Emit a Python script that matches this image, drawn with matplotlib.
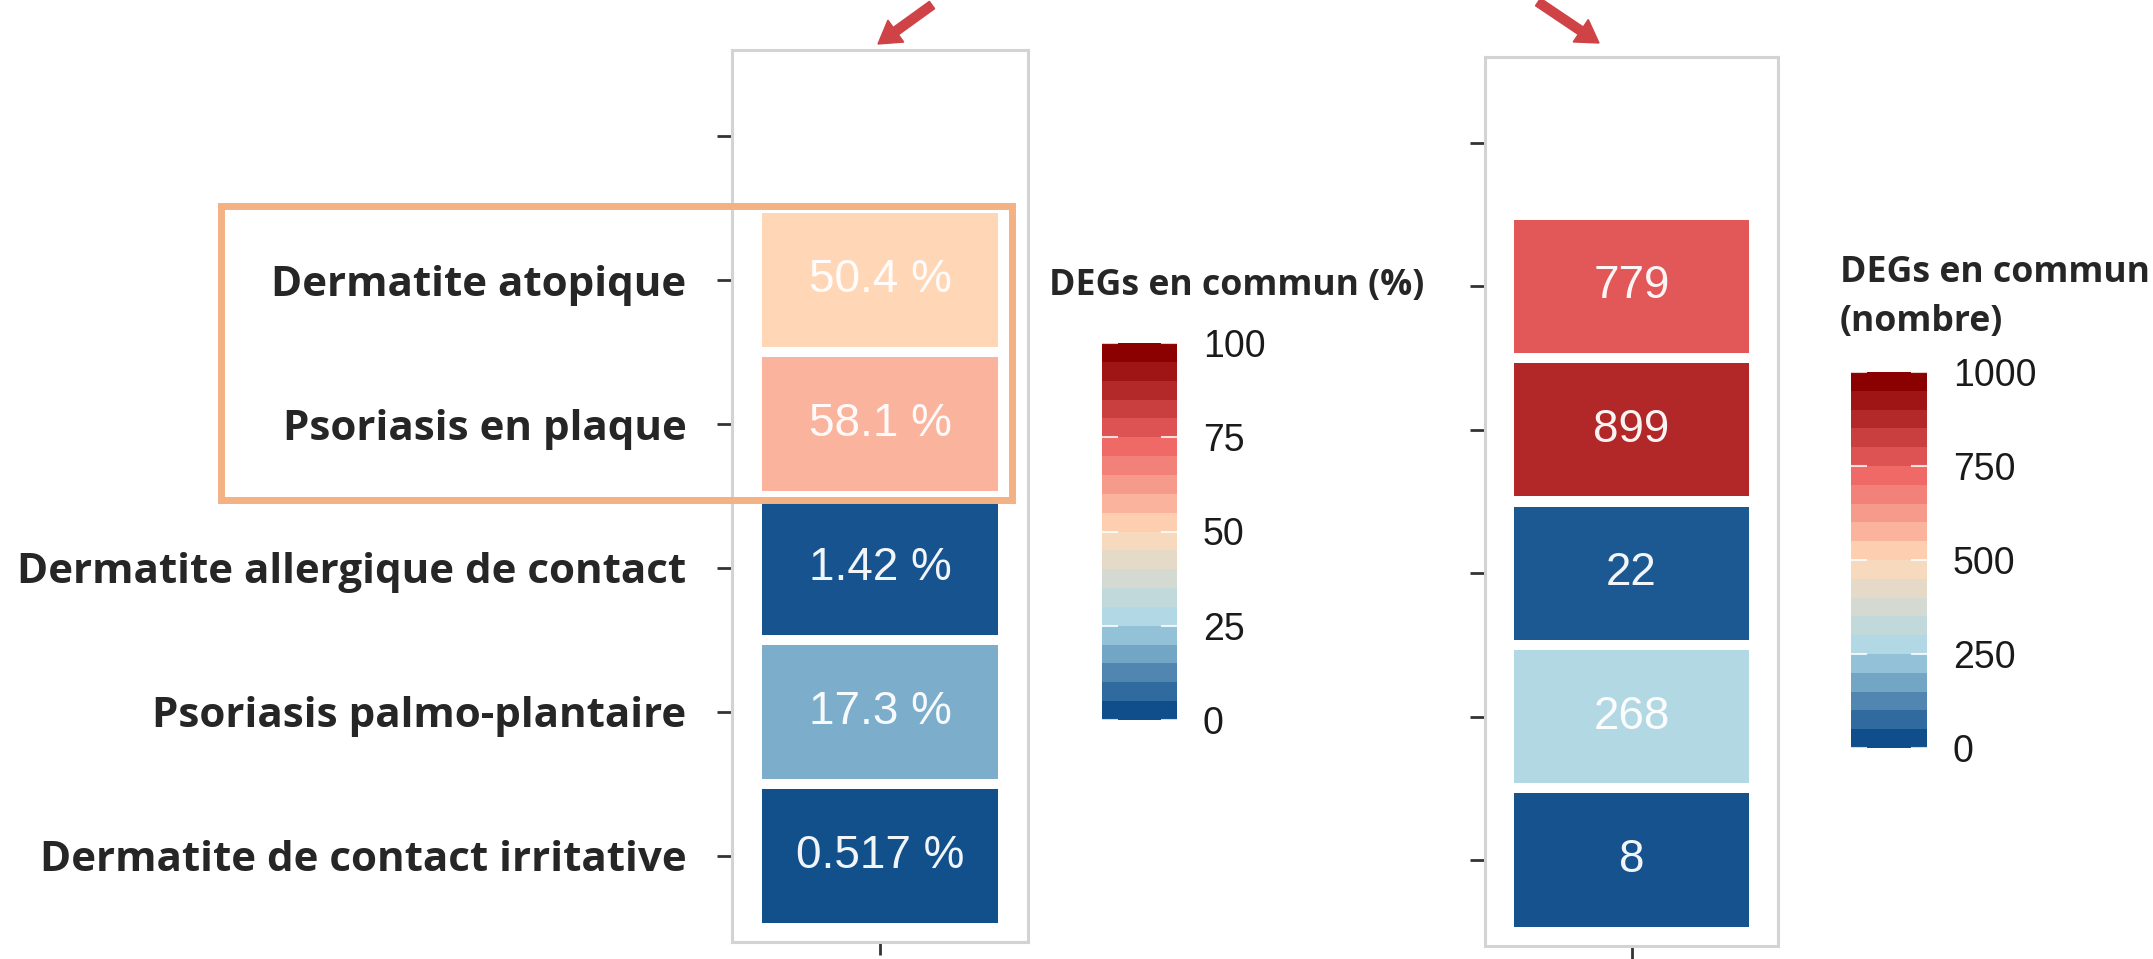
import numpy as np
import matplotlib.pyplot as plt
import matplotlib.transforms as mtransforms
from matplotlib.colors import LinearSegmentedColormap
from matplotlib.patches import FancyArrow, Rectangle

# données
maladies = ["Dermatite atopique", "Psoriasis en plaque", "Dermatite allergique de contact",
            "Psoriasis palmo-plantaire", "Dermatite de contact irritative"]
pct_communs = [50.4, 58.1, 1.42, 17.3, 0.517]
pct_textes = ["50.4 %", "58.1 %", "1.42 %", "17.3 %", "0.517 %"]
nb_communs = [779, 899, 22, 268, 8]
nb_textes = ["779", "899", "22", "268", "8"]
pct_ticks = [0, 25, 50, 75, 100]
nb_ticks = [0, 250, 500, 750, 1000]

W, H, DPI = 2153, 959, 100
fig = plt.figure(figsize=(W / DPI, H / DPI), dpi=DPI)
fig.patch.set_facecolor("white")

degrade = LinearSegmentedColormap.from_list(
    "degs", ["#104E8B", "#ADD8E6", "#FFDAB9", "#EE6363", "#8B0000"])


def px_rect(x0, y0, x1, y1):
    # pixels (origine en haut a gauche) -> fraction de figure
    return [x0 / W, 1 - y1 / H, (x1 - x0) / W, (y1 - y0) / H]


def tuiles(rect, valeurs, textes, vmax, etiquettes):
    ax = fig.add_axes(rect)
    n = len(valeurs)
    ypos = np.arange(n, 0, -1)
    couleurs = degrade(np.asarray(valeurs) / vmax)
    ax.barh(ypos, 1, left=0.5, height=1, color=couleurs, edgecolor="white", linewidth=7.2)
    for y, t in zip(ypos, textes):
        ax.text(1, y, t, ha="center", va="center", color="white", alpha=0.95,
                fontsize=33, family="Liberation Sans")
    ax.set_xlim(0.4, 1.6)
    ax.set_ylim(0.4, n + 1.6)
    ax.set_yticks(np.arange(1, n + 2))
    if etiquettes:
        ax.set_yticklabels(list(reversed(maladies)) + [""], fontsize=30.3,
                           fontweight="bold", family="Open Sans", color="#262626")
    else:
        ax.set_yticklabels([])
    ax.set_xticks([1])
    ax.set_xticklabels([])
    ax.tick_params(axis="both", length=10.8, width=2, color="#333333", pad=22)
    ax.tick_params(axis="x", length=9.4)
    for s in ax.spines.values():
        s.set_color("#D3D3D3")
        s.set_linewidth(2.2)
    return ax


def barre_couleur(rect, vmax, ticks):
    cax = fig.add_axes(rect)
    nbin = 20
    bords = np.linspace(0, vmax, nbin + 1)
    vals = np.linspace(0, vmax, nbin)
    cax.pcolormesh([0, 1], bords, vals.reshape(-1, 1), cmap=degrade,
                   vmin=0, vmax=vmax, shading="flat")
    cax.set_xlim(0, 1)
    cax.set_ylim(0, vmax)
    for t in ticks:
        cax.plot([0, 0.2], [t, t], color="white", lw=1.5, alpha=0.8)
        cax.plot([0.8, 1], [t, t], color="white", lw=1.5, alpha=0.8)
    for s in cax.spines.values():
        s.set_visible(False)
    cax.set_xticks([])
    cax.yaxis.tick_right()
    cax.set_yticks(ticks)
    cax.set_yticklabels([str(t) for t in ticks], fontsize=27,
                        family="Liberation Sans", color="#1A1A1A")
    cax.tick_params(axis="y", length=0, pad=18.7)
    return cax


tuiles(px_rect(732, 50, 1028, 942), pct_communs, pct_textes, 100, True)
tuiles(px_rect(1485, 57, 1778, 946), nb_communs, nb_textes, 1000, False)

barre_couleur(px_rect(1102, 343, 1177, 720), 100, pct_ticks)
barre_couleur(px_rect(1851, 372, 1927, 748), 1000, nb_ticks)

titre = dict(fontsize=25.7, fontweight="bold", family="Open Sans", color="#262626", va="baseline")
fig.text(1049 / W, 1 - 295 / H, "DEGs en commun (%)", **titre)
fig.text(1840 / W, 1 - 282 / H, "DEGs en commun", **titre)
fig.text(1840 / W, 1 - 331 / H, "(nombre)", **titre)

# encadré orange
fig.add_artist(Rectangle((221 / W, 1 - 500 / H), (1012 - 221) / W, (500 - 206) / H,
                         transform=fig.transFigure, fill=False,
                         edgecolor="#F4B183", linewidth=5))

# flèches rouges
tr_px = mtransforms.Affine2D().scale(1 / DPI) + fig.dpi_scale_trans
for x, y, dx, dy in [(932, H - 5, -54, -39), (1538, H - 2, 61, -41)]:
    fig.add_artist(FancyArrow(x, y, dx, dy, width=9, head_width=27, head_length=22,
                              length_includes_head=True, color="#CF4346",
                              transform=tr_px))

fig.savefig("out.png", dpi=DPI)
